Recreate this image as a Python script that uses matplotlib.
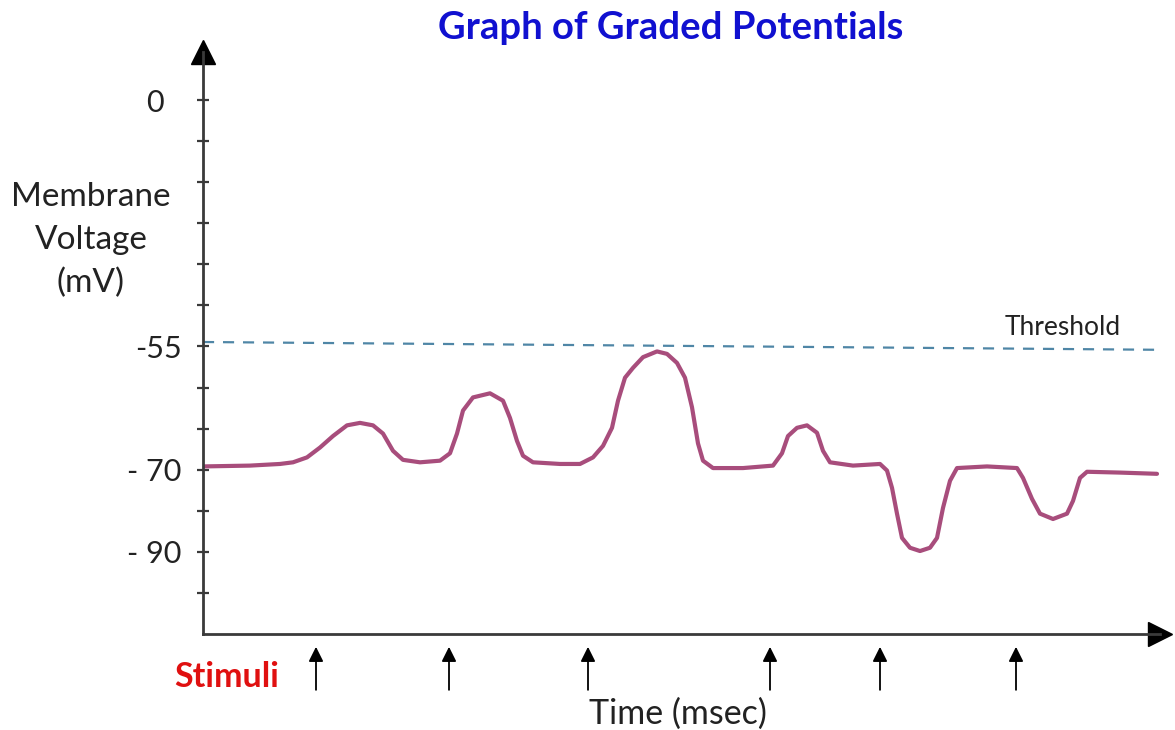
import numpy as np
import matplotlib.pyplot as plt

# membrane voltage trace
time_ms = [0.0, 4.7, 7.7, 9.0, 10.4, 11.7, 13.0, 14.4, 15.7, 17.0, 18.0, 19.0, 20.0,
           21.7, 23.7, 24.7, 25.4, 26.0, 27.0, 28.7, 30.0, 30.7, 31.4, 32.0, 33.0,
           35.7, 37.7, 39.0, 40.0, 40.9, 41.5, 42.2, 43.0, 44.0, 45.4, 46.4, 47.4,
           48.2, 48.9, 49.5, 50.0, 51.0, 54.0, 57.0, 57.9, 58.5, 59.4, 60.4, 61.4,
           62.0, 62.7, 65.0, 67.7, 68.4, 68.9, 69.4, 69.9, 70.7, 71.7, 72.7, 73.4,
           74.0, 74.7, 75.4, 78.4, 81.4, 82.0, 82.9, 83.7, 85.0, 86.4, 87.0, 87.7,
           88.4, 91.7, 95.4]
voltage_mv = [-69.6, -69.5, -69.3, -69.1, -68.5, -67.3, -65.9, -64.6, -64.3, -64.6,
              -65.6, -67.7, -68.8, -69.1, -68.9, -68.0, -65.6, -62.8, -61.2, -60.7,
              -61.6, -63.7, -66.5, -68.3, -69.1, -69.3, -69.3, -68.5, -67.1, -64.9,
              -61.6, -58.8, -57.6, -56.3, -55.6, -55.9, -57.0, -58.8, -62.4, -66.8,
              -68.9, -69.8, -69.8, -69.5, -68.0, -65.9, -64.9, -64.6, -65.5, -67.7,
              -69.1, -69.5, -69.3, -70.2, -74.4, -80.7, -86.6, -89.0, -89.8, -89.0,
              -86.6, -79.3, -72.7, -69.8, -69.6, -69.8, -72.0, -77.1, -80.7, -82.0,
              -80.7, -77.6, -72.0, -70.5, -70.7, -71.0]

threshold_t = [0, 95.4]
threshold_mv = [-54.0, -55.4]
stimuli_t = [11.3, 24.6, 38.5, 56.7, 67.7, 81.3]

label_mv = [0, -55, -70, -90]
label_text = ['0', '-55', '- 70', '- 90']

# the drawing has evenly spaced tick marks but the mV values are not linear
knot_mv = [-110, -90, -70, -55, 0, 30]
knot_pos = [-13, -11, -9, -6, 0, 30 * 6 / 55]


def forward(v):
    return np.interp(v, knot_mv, knot_pos)


def inverse(p):
    return np.interp(p, knot_pos, knot_mv)


plt.rcParams['font.family'] = ['Lato', 'DejaVu Sans']

W, H = 1175, 730
fig = plt.figure(figsize=(W / 100, H / 100), dpi=100)
ax = fig.add_axes([203 / W, (H - 634) / H, (1160 - 203) / W, (634 - 52) / H])

ax.set_yscale('function', functions=(forward, inverse))
ax.set_xlim(0, 95.7)
ax.set_ylim(-110, inverse(1.17))

axis_col = '#3a3a3a'
for s in ['top', 'right']:
    ax.spines[s].set_visible(False)
for s in ['left', 'bottom']:
    ax.spines[s].set_color(axis_col)
    ax.spines[s].set_linewidth(2)

# arrow heads at the ends of the axes
ax.plot([0], [ax.get_ylim()[1]], marker='^', ms=17, color='black', clip_on=False)
ax.plot([ax.get_xlim()[1]], [-110], marker='>', ms=17, color='black', clip_on=False)

ax.set_xticks([])
ax.set_yticks(inverse(np.arange(-12, 1)), minor=True)
ax.set_yticks(label_mv, label_text)
ax.tick_params(axis='y', which='both', direction='inout', length=9, width=1.6,
               color=axis_col, labelsize=22, labelcolor='#222222', pad=11)
ax.yaxis.get_major_ticks()[0].set_pad(24)

# threshold line
ax.plot(threshold_t, threshold_mv, color='#4f86a6', lw=1.6, ls=(0, (5, 4)))
fig.text(1005 / W, 1 - 328 / H, 'Threshold', fontsize=19, color='#222222',
         ha='left', va='center')

# graded potentials
ax.plot(time_ms, voltage_mv, color='#a84d7c', lw=3.0, solid_joinstyle='round',
        solid_capstyle='round')

# stimulus arrows
for t in stimuli_t:
    ax.annotate('', xy=(t, -0.022), xytext=(t, -0.096),
                xycoords=('data', 'axes fraction'),
                arrowprops=dict(arrowstyle='-|>', color='black', lw=1.3,
                                mutation_scale=22, shrinkA=0, shrinkB=0))

fig.text(671 / W, 1 - 28 / H, 'Graph of Graded Potentials', fontsize=27.5,
         fontweight='bold', color='#1010d0', ha='center', va='center')
fig.text(91 / W, 1 - 240 / H, 'Membrane\nVoltage\n(mV)', fontsize=24,
         color='#222222', ha='center', va='center', linespacing=1.52)
fig.text(227 / W, 1 - 677 / H, 'Stimuli', fontsize=24.5, fontweight='bold',
         color='#e01010', ha='center', va='center')
fig.text(678 / W, 1 - 714 / H, 'Time (msec)', fontsize=24.5, color='#222222',
         ha='center', va='center')

fig.savefig('out.png', dpi=100)
